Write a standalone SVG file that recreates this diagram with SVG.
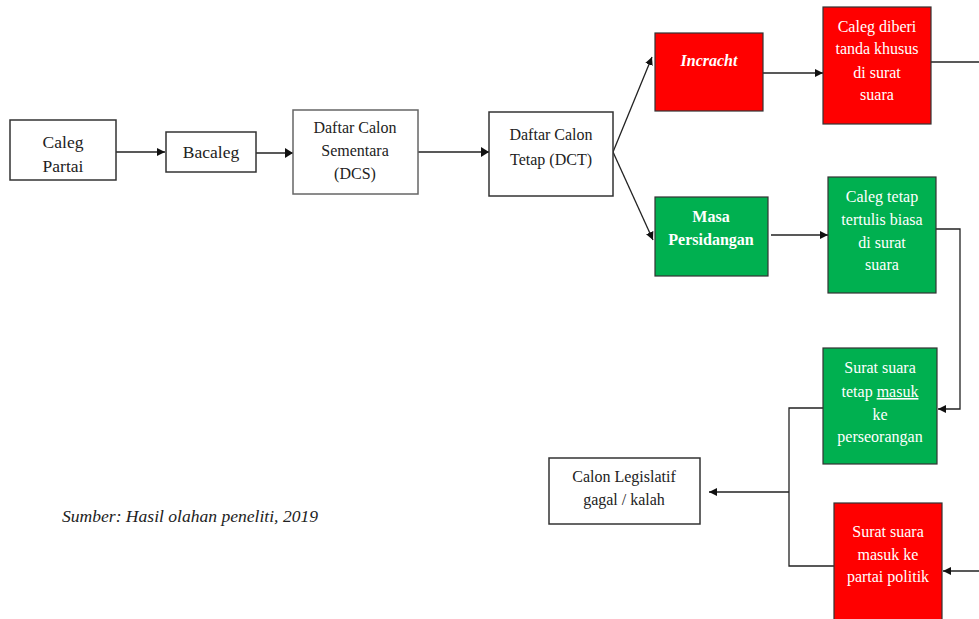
<svg xmlns="http://www.w3.org/2000/svg" width="979" height="619" viewBox="0 0 979 619">
<style>
text{font-family:"Liberation Serif","Times New Roman",serif;font-size:16px;fill:#222;text-anchor:middle}
.big{font-size:17.5px}
.w{fill:#fff}
.box{fill:#fff;stroke:#333;stroke-width:1.5}
.gbox{fill:#fff;stroke:#666;stroke-width:1.5}
.red{fill:#ff0000;stroke:#333;stroke-width:1.2}
.grn{fill:#00b050;stroke:#333;stroke-width:1.2}
.ln{fill:none;stroke:#222;stroke-width:1.3}
</style>
<defs>
<marker id="ah" viewBox="0 0 10 10" refX="10" refY="5" markerWidth="8" markerHeight="8" markerUnits="userSpaceOnUse" orient="auto">
<path d="M0,0 L10,5 L0,10 z" fill="#111"/>
</marker>
</defs>
<rect width="979" height="619" fill="#fff"/>
<g id="connectors">
<line class="ln" x1="116" y1="152" x2="165" y2="152" marker-end="url(#ah)"/>
<line class="ln" x1="256" y1="153" x2="293" y2="153" stroke="#777"/>
<line class="ln" x1="418" y1="152" x2="489" y2="152" stroke="#777"/>
<line class="ln" x1="613" y1="152" x2="652" y2="57" marker-end="url(#ah)"/>
<line class="ln" x1="613" y1="152" x2="653" y2="240" marker-end="url(#ah)"/>
<line class="ln" x1="763" y1="73" x2="823" y2="73" marker-end="url(#ah)"/>
<line class="ln" x1="931" y1="62" x2="979" y2="62"/>
<line class="ln" x1="771" y1="235" x2="828" y2="235" marker-end="url(#ah)"/>
<polyline class="ln" points="936,229 960,229 960,409 938,409" marker-end="url(#ah)"/>
<line class="ln" x1="979" y1="571" x2="943" y2="571" marker-end="url(#ah)"/>
<polyline class="ln" points="823,408 789,408 789,566 834,566"/>
<line class="ln" x1="789" y1="492" x2="709" y2="492" marker-end="url(#ah)"/>
<path d="M285,148 L293,153 L285,158 z" fill="#111"/>
<path d="M481,147 L489,152 L481,157 z" fill="#111"/>
</g>
<g id="caleg-partai">
<rect class="box" x="10" y="120" width="106" height="60"/>
<text class="big" x="63" y="148">Caleg</text>
<text class="big" x="63" y="172">Partai</text>
</g>
<g id="bacaleg">
<rect class="box" x="166" y="132" width="90" height="40"/>
<text class="big" x="211" y="158">Bacaleg</text>
</g>
<g id="dcs">
<rect class="gbox" x="293" y="110" width="125" height="84"/>
<text x="355" y="133">Daftar Calon</text>
<text x="355" y="156">Sementara</text>
<text x="355" y="179">(DCS)</text>
</g>
<g id="dct">
<rect class="box" x="489" y="112" width="124" height="84"/>
<text x="551" y="140">Daftar Calon</text>
<text x="551" y="165">Tetap (DCT)</text>
</g>
<g id="incracht">
<rect class="red" x="655" y="33" width="108" height="78"/>
<text class="w" x="709" y="66" font-style="italic" font-weight="bold">Incracht</text>
</g>
<g id="caleg-diberi">
<rect class="red" x="823" y="7" width="108" height="117"/>
<text class="w" x="877" y="32">Caleg diberi</text>
<text class="w" x="877" y="54">tanda khusus</text>
<text class="w" x="877" y="78">di surat</text>
<text class="w" x="877" y="100">suara</text>
</g>
<g id="masa-persidangan">
<rect class="grn" x="655" y="197" width="113" height="79"/>
<text class="w" x="711" y="222" font-weight="bold">Masa</text>
<text class="w" x="711" y="245" font-weight="bold">Persidangan</text>
</g>
<g id="caleg-tetap">
<rect class="grn" x="828" y="177" width="108" height="116"/>
<text class="w" x="882" y="202">Caleg tetap</text>
<text class="w" x="882" y="225">tertulis biasa</text>
<text class="w" x="882" y="248">di surat</text>
<text class="w" x="882" y="270">suara</text>
</g>
<g id="surat-perseorangan">
<rect class="grn" x="823" y="348" width="114" height="116"/>
<text class="w" x="880" y="373">Surat suara</text>
<text class="w" x="880" y="397">tetap <tspan text-decoration="underline">masuk</tspan></text>
<text class="w" x="880" y="420">ke</text>
<text class="w" x="880" y="442">perseorangan</text>
</g>
<g id="surat-partai">
<rect class="red" x="834" y="503" width="108" height="118"/>
<text class="w" x="888" y="537">Surat suara</text>
<text class="w" x="888" y="560">masuk ke</text>
<text class="w" x="888" y="582">partai politik</text>
</g>
<g id="calon-gagal">
<rect class="box" x="549" y="458" width="151" height="66"/>
<text x="624" y="482">Calon Legislatif</text>
<text x="624" y="505">gagal / kalah</text>
</g>
<text x="190" y="522" font-style="italic" textLength="256" lengthAdjust="spacingAndGlyphs">Sumber: Hasil olahan peneliti, 2019</text>
</svg>
